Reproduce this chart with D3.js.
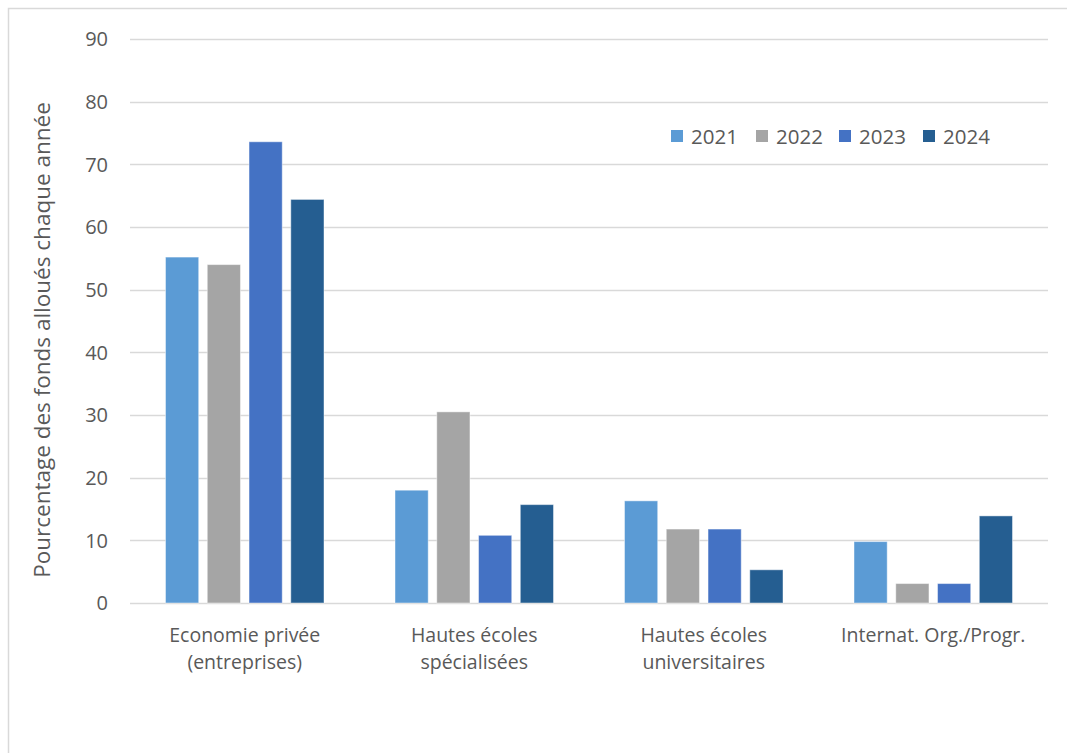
<!DOCTYPE html>
<html>
<head>
<meta charset="utf-8">
<script src="https://cdn.jsdelivr.net/npm/d3@7"></script>
<style>
  body { margin: 0; background: #fff; }
  text { font-family: "Open Sans", sans-serif; fill: #595959; }
</style>
</head>
<body>
<div id="chart"></div>
<script>
// data
var categories = [
  ["Economie privée", "(entreprises)"],
  ["Hautes écoles", "spécialisées"],
  ["Hautes écoles", "universitaires"],
  ["Internat. Org./Progr."]
];
var years = ["2021", "2022", "2023", "2024"];
var values2021 = [55.2, 18.0, 16.3, 9.8];
var values2022 = [54.0, 30.5, 11.8, 3.1];
var values2023 = [73.6, 10.8, 11.8, 3.1];
var values2024 = [64.4, 15.7, 5.3, 13.9];
var yTicks = [0, 10, 20, 30, 40, 50, 60, 70, 80, 90];
var colors = ["#5B9BD5", "#A5A5A5", "#4472C4", "#255E91"];

var series = [values2021, values2022, values2023, values2024];

var width = 1067, height = 753;
var margin = {top: 39, right: 19, bottom: 150, left: 130};

var svg = d3.select("#chart").append("svg")
    .attr("width", width)
    .attr("height", height);

// chart area border
svg.append("path")
    .attr("d", "M8.5," + height + "V8.5H" + width)
    .attr("fill", "none")
    .attr("stroke", "#D9D9D9")
    .attr("stroke-width", 1.5);

var y = d3.scaleLinear()
    .domain([0, 90])
    .range([height - margin.bottom, margin.top]);

var x0 = d3.scaleBand()
    .domain(d3.range(categories.length))
    .range([margin.left, width - margin.right]);

var x1 = d3.scaleBand()
    .domain(years)
    .range([0, x0.bandwidth()])
    .paddingInner(0.205)
    .paddingOuter(0.85);

// gridlines
svg.append("g").selectAll("line")
    .data(yTicks)
  .enter().append("line")
    .attr("x1", margin.left)
    .attr("x2", width - margin.right)
    .attr("y1", function(d) { return Math.round(y(d)) + 0.5; })
    .attr("y2", function(d) { return Math.round(y(d)) + 0.5; })
    .attr("stroke", "#D9D9D9")
    .attr("stroke-width", 1.5);

// y tick labels
svg.append("g").selectAll("text")
    .data(yTicks)
  .enter().append("text")
    .attr("x", 108)
    .attr("y", function(d) { return y(d); })
    .attr("dy", "0.36em")
    .attr("text-anchor", "end")
    .style("font-size", "20px")
    .text(function(d) { return d; });

// bars
var group = svg.append("g").selectAll("g")
    .data(categories)
  .enter().append("g")
    .attr("transform", function(d, i) { return "translate(" + x0(i) + ",0)"; });

group.selectAll("rect")
    .data(function(d, i) {
      return years.map(function(yr, j) { return {year: yr, value: series[j][i], color: colors[j]}; });
    })
  .enter().append("rect")
    .attr("x", function(d) { return x1(d.year); })
    .attr("y", function(d) { return y(d.value); })
    .attr("width", x1.bandwidth())
    .attr("height", function(d) { return y(0) - y(d.value); })
    .attr("fill", function(d) { return d.color; })
    .attr("stroke", "rgba(255,255,255,0.45)")
    .attr("stroke-width", 1);

// category labels
var catLabel = svg.append("g").selectAll("text")
    .data(categories)
  .enter().append("text")
    .attr("text-anchor", "middle")
    .attr("x", function(d, i) { return x0(i) + x0.bandwidth() / 2; })
    .attr("y", 642)
    .style("font-size", "19.5px");

catLabel.selectAll("tspan")
    .data(function(d) { return d; })
  .enter().append("tspan")
    .attr("x", function() { return d3.select(this.parentNode).attr("x"); })
    .attr("dy", function(d, i) { return i === 0 ? 0 : 27; })
    .text(function(d) { return d; });

// y axis title
svg.append("text")
    .attr("transform", "translate(50,340) rotate(-90)")
    .attr("text-anchor", "middle")
    .style("font-size", "22.5px")
    .text("Pourcentage des fonds alloués chaque année");

// legend
var legendX = [671, 756, 839, 923];
var legend = svg.append("g").selectAll("g")
    .data(years)
  .enter().append("g")
    .attr("transform", function(d, i) { return "translate(" + legendX[i] + ",130)"; });

legend.append("rect")
    .attr("width", 12)
    .attr("height", 12)
    .attr("fill", function(d, i) { return colors[i]; });

legend.append("text")
    .attr("x", 20)
    .attr("y", 13.5)
    .style("font-size", "20.5px")
    .text(function(d) { return d; });
</script>
</body>
</html>
